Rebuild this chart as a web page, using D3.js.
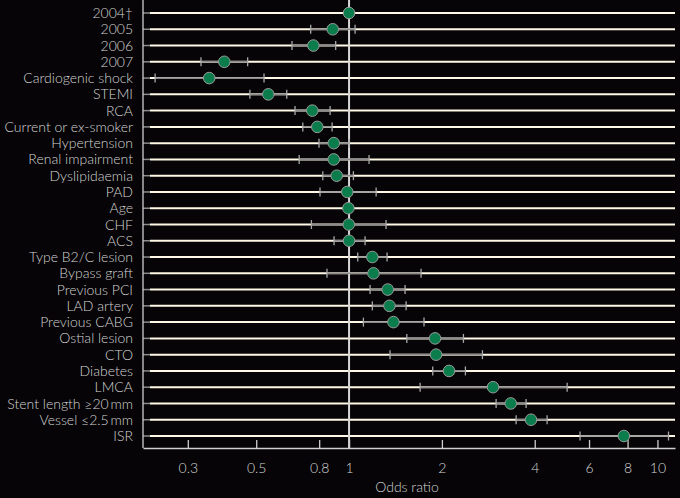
<!DOCTYPE html>
<html>
<head>
<meta charset="utf-8">
<script src="https://cdn.jsdelivr.net/npm/d3@7"></script>
<style>
  body { margin: 0; background: #060406; }
  svg { display: block; }
  text { font-family: Lato, "Liberation Sans", sans-serif; font-weight: 300; fill: #d4d4d4; }
</style>
</head>
<body>
<div id="chart"></div>
<script>
// row labels, top to bottom
const labels = ["2004\u2020", "2005", "2006", "2007", "Cardiogenic shock", "STEMI", "RCA",
  "Current or ex-smoker", "Hypertension", "Renal impairment", "Dyslipidaemia", "PAD", "Age",
  "CHF", "ACS", "Type B2/C lesion", "Bypass graft", "Previous PCI", "LAD artery",
  "Previous CABG", "Ostial lesion", "CTO", "Diabetes", "LMCA",
  "Stent length \u226520\u2009mm", "Vessel \u22642.5\u2009mm", "ISR"];

// odds ratios and 95% CI (null = no interval drawn)
const oddsRatio = [1.0, 0.885, 0.766, 0.394, 0.352, 0.547, 0.76, 0.789, 0.892, 0.892, 0.912, 0.987,
  0.995, 0.998, 1.0, 1.19, 1.2, 1.335, 1.352, 1.393, 1.9, 1.915, 2.11, 2.93, 3.345, 3.89, 7.78];
const ciLow = [null, 0.751, 0.653, 0.331, 0.235, 0.477, 0.668, 0.708, 0.799, 0.689, 0.822, 0.805,
  null, 0.755, 0.894, 1.067, 0.848, 1.17, 1.19, 1.113, 1.539, 1.358, 1.868, 1.70, 2.998, 3.481, 5.61];
const ciHigh = [null, 1.046, 0.905, 0.469, 0.530, 0.628, 0.868, 0.881, 1.0, 1.161, 1.033, 1.224,
  null, 1.318, 1.127, 1.328, 1.712, 1.519, 1.531, 1.75, 2.349, 2.707, 2.384, 5.095, 3.75, 4.387, 10.86];

const tickValues = [0.3, 0.5, 0.8, 1, 2, 4, 6, 8, 10];

const width = 680, height = 498;
const margin = { top: 0, right: 5, bottom: 50, left: 143 };

const svg = d3.select("#chart").append("svg")
  .attr("width", width)
  .attr("height", height);

const x = d3.scaleLog()
  .domain([0.2147, 11.4])
  .range([margin.left, width - margin.right]);

const y = d3.scalePoint()
  .domain(labels)
  .range([13, 436]);

const axisY = height - margin.bottom; // ~448

// horizontal row lines
const rows = svg.append("g");
rows.selectAll("line.tick")
  .data(labels)
  .join("line")
  .attr("x1", margin.left).attr("x2", margin.left + 7)
  .attr("y1", d => y(d)).attr("y2", d => y(d))
  .attr("stroke", "#8a8a8a").attr("stroke-width", 1.5);
rows.selectAll("line.grid")
  .data(labels)
  .join("line")
  .attr("class", "grid")
  .attr("x1", margin.left + 7).attr("x2", width - margin.right)
  .attr("y1", d => y(d)).attr("y2", d => y(d))
  .attr("stroke", "#fff8e6").attr("stroke-width", 2);

// y labels
svg.append("g")
  .selectAll("text")
  .data(labels)
  .join("text")
  .attr("x", 133)
  .attr("y", d => y(d))
  .attr("dy", "0.36em")
  .attr("text-anchor", "end")
  .attr("font-size", "14px")
  .text(d => d);

// left axis line and reference line at 1
svg.append("line")
  .attr("x1", margin.left).attr("x2", margin.left)
  .attr("y1", 0).attr("y2", axisY)
  .attr("stroke", "#cfcfcf").attr("stroke-width", 1.3);
svg.append("line")
  .attr("x1", x(1)).attr("x2", x(1))
  .attr("y1", 0).attr("y2", axisY)
  .attr("stroke", "#d8d8d8").attr("stroke-width", 2);

// bottom axis
const xAxis = d3.axisBottom(x)
  .tickValues(tickValues)
  .tickFormat(d3.format("~g"))
  .tickSizeInner(-8)
  .tickSizeOuter(0)
  .tickPadding(15);
const gx = svg.append("g")
  .attr("transform", `translate(0,${axisY})`)
  .call(xAxis);
gx.select(".domain").attr("stroke", "#cfcfcf").attr("stroke-width", 1.3);
gx.selectAll(".tick line").attr("stroke", "#cfcfcf").attr("stroke-width", 1.3);
gx.selectAll(".tick text")
  .attr("fill", "#d4d4d4")
  .attr("font-size", "14px")
  .attr("font-family", "Lato, Liberation Sans, sans-serif");

svg.append("text")
  .attr("x", 407)
  .attr("y", 492)
  .attr("text-anchor", "middle")
  .attr("font-size", "14px")
  .text("Odds ratio");

// confidence intervals
const rowsData = labels.map((name, i) => ({ name, or: oddsRatio[i], lo: ciLow[i], hi: ciHigh[i] }));
const withCI = rowsData.filter(d => d.lo != null);

const ci = svg.append("g");
ci.selectAll("line.ci")
  .data(withCI)
  .join("line")
  .attr("x1", d => x(d.lo)).attr("x2", d => x(d.hi))
  .attr("y1", d => y(d.name)).attr("y2", d => y(d.name))
  .attr("stroke", "#8c8c8c").attr("stroke-width", 1.6);
ci.append("g").selectAll("line")
  .data(withCI)
  .join("line")
  .attr("x1", d => x(d.lo)).attr("x2", d => x(d.lo))
  .attr("y1", d => y(d.name) - 4.5).attr("y2", d => y(d.name) + 4.5)
  .attr("stroke", "#a8a8a8").attr("stroke-width", 1.3);
ci.append("g").selectAll("line")
  .data(withCI)
  .join("line")
  .attr("x1", d => x(d.hi)).attr("x2", d => x(d.hi))
  .attr("y1", d => y(d.name) - 4.5).attr("y2", d => y(d.name) + 4.5)
  .attr("stroke", "#a8a8a8").attr("stroke-width", 1.3);

// point estimates
svg.append("g")
  .selectAll("circle")
  .data(rowsData)
  .join("circle")
  .attr("cx", d => x(d.or))
  .attr("cy", d => y(d.name))
  .attr("r", 5.8)
  .attr("fill", "#0b7d4c")
  .attr("stroke", "#9a9a9a")
  .attr("stroke-width", 1);
</script>
</body>
</html>
